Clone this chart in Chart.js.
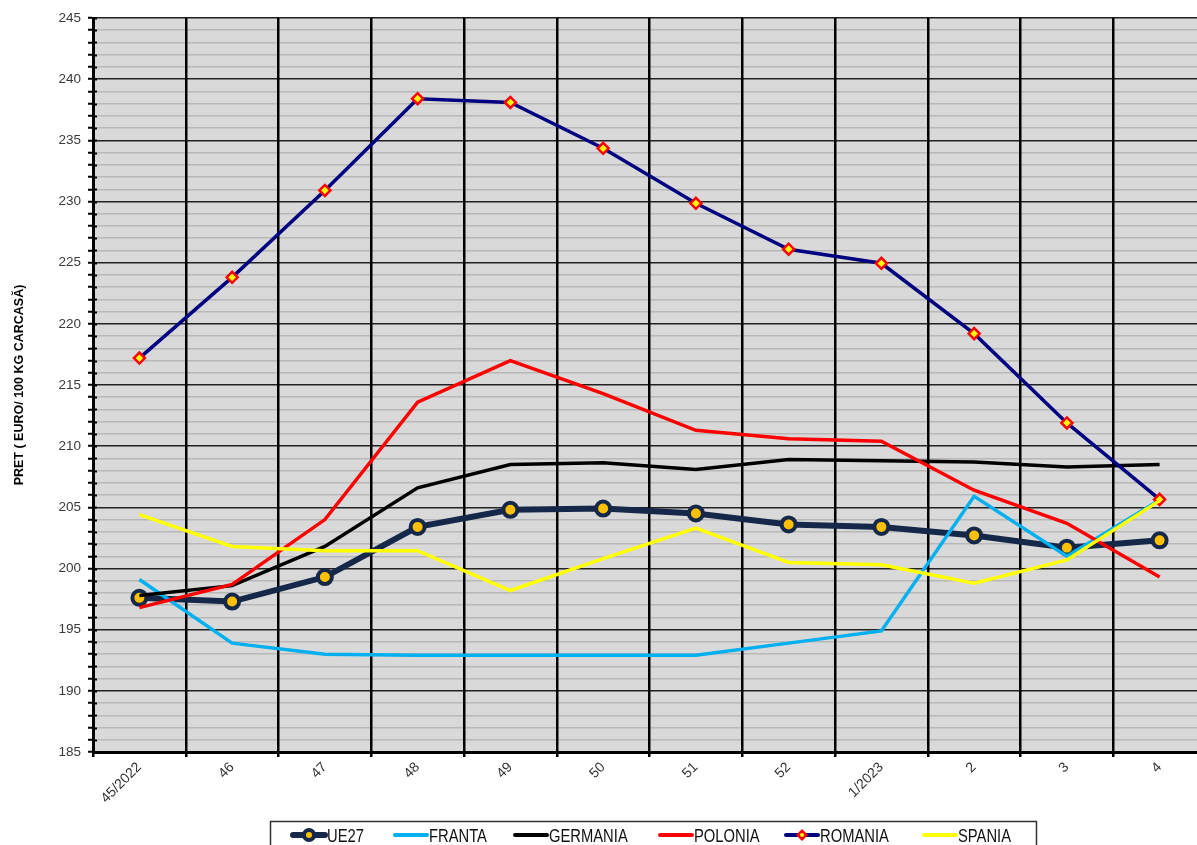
<!DOCTYPE html>
<html>
<head>
<meta charset="utf-8">
<title>Pret carcasa</title>
<script src="https://cdn.jsdelivr.net/npm/chart.js@4.4.1/dist/chart.umd.min.js"></script>
<style>
    html, body { margin: 0; padding: 0; background: #fff; overflow: hidden; }
    #grafic { display: block; }
</style>
</head>
<body>
<canvas id="grafic" width="1217" height="845"></canvas>
<script>
const weeks = ["45/2022", "46", "47", "48", "49", "50", "51", "52", "1/2023", "2", "3", "4"];
const ue27 = [197.6, 197.3, 199.3, 203.4, 204.8, 204.9, 204.5, 203.6, 203.4, 202.7, 201.7, 202.3];
const franta = [199.1, 193.9, 193.0, 192.9, 192.9, 192.9, 192.9, 193.9, 194.9, 205.9, 201.0, 205.6];
const germania = [197.8, 198.6, 201.8, 206.6, 208.5, 208.65, 208.1, 208.9, 208.8, 208.7, 208.3, 208.5];
const polonia = [196.8, 198.7, 204.0, 213.6, 217.0, 214.3, 211.3, 210.6, 210.4, 206.4, 203.7, 199.3];
const romania = [217.2, 223.8, 230.9, 238.4, 238.1, 234.35, 229.85, 226.1, 224.95, 219.2, 211.9, 205.65];
const spania = [204.4, 201.8, 201.45, 201.45, 198.2, 200.8, 203.3, 200.5, 200.3, 198.8, 200.7, 205.55];
const yMin = 185;
const yMax = 245;
const axisTitle = "PRET ( EURO/ 100 KG CARCASĂ)";

const legendFont = '18px "Liberation Sans", Arial, sans-serif';

// fundal gri doar in zona graficului
const plotBackground = {
    id: "plotBackground",
    beforeDraw(chart) {
        const { ctx, chartArea: a } = chart;
        ctx.save();
        ctx.fillStyle = "#d9d9d9";
        ctx.fillRect(a.left, a.top, a.right - a.left, a.bottom - a.top);
        ctx.restore();
    }
};

// liniutele de pe axa Y trec si in interiorul graficului
const innerTicks = {
    id: "innerTicks",
    afterDatasetsDraw(chart) {
        const { ctx, chartArea: a, scales } = chart;
        ctx.save();
        ctx.strokeStyle = "#000";
        ctx.lineWidth = 2;
        scales.y.ticks.forEach(t => {
            const y = Math.round(scales.y.getPixelForValue(t.value)) + 0.5;
            ctx.beginPath();
            ctx.moveTo(a.left, y);
            ctx.lineTo(a.left + 4, y);
            ctx.stroke();
        });
        ctx.restore();
    }
};

// legenda in stil Excel, cu chenar
const excelLegend = {
    id: "excelLegend",
    afterDraw(chart) {
        const ctx = chart.ctx;
        const starts = [291, 393, 513, 658, 784, 922];
        const y = 835;
        ctx.save();
        ctx.strokeStyle = "#333";
        ctx.lineWidth = 1.5;
        ctx.strokeRect(270.5, 821.5, 766, 40);
        ctx.font = legendFont;
        ctx.textBaseline = "alphabetic";
        chart.data.datasets.forEach((ds, i) => {
            const x = starts[i];
            ctx.strokeStyle = ds.borderColor;
            ctx.lineWidth = ds.label === "UE27" ? 6 : 4;
            ctx.lineCap = "round";
            ctx.beginPath();
            ctx.moveTo(x + 2, y);
            ctx.lineTo(x + 34, y);
            ctx.stroke();
            if (ds.label === "UE27") {
                ctx.fillStyle = ds.borderColor;
                ctx.beginPath();
                ctx.arc(x + 18, y, 7, 0, Math.PI * 2);
                ctx.fill();
                ctx.fillStyle = ds.pointBackgroundColor;
                ctx.beginPath();
                ctx.arc(x + 18, y, 3, 0, Math.PI * 2);
                ctx.fill();
            } else if (ds.label === "ROMANIA") {
                ctx.fillStyle = ds.pointBorderColor;
                ctx.beginPath();
                ctx.moveTo(x + 18, y - 6);
                ctx.lineTo(x + 24, y);
                ctx.lineTo(x + 18, y + 6);
                ctx.lineTo(x + 12, y);
                ctx.closePath();
                ctx.fill();
                ctx.fillStyle = ds.pointBackgroundColor;
                ctx.beginPath();
                ctx.arc(x + 18, y, 2, 0, Math.PI * 2);
                ctx.fill();
            }
            // text ingustat, ca Arial Narrow
            ctx.save();
            ctx.translate(x + 36, y + 7);
            ctx.scale(0.82, 1);
            ctx.fillStyle = "#111";
            ctx.fillText(ds.label, 0, 0);
            ctx.restore();
        });
        ctx.restore();
    }
};

const ctx = document.querySelector("#grafic").getContext("2d");
const chart = new Chart(ctx, {
    type: "line",
    plugins: [plotBackground, innerTicks, excelLegend],
    data: {
        labels: weeks,
        datasets: [
            {
                label: "UE27",
                data: ue27,
                borderColor: "#15284a",
                borderWidth: 6,
                pointRadius: 7,
                pointBorderWidth: 4,
                pointBorderColor: "#15284a",
                pointBackgroundColor: "#ffc000",
                order: 6
            },
            {
                label: "FRANTA",
                data: franta,
                borderColor: "#00b0f0",
                borderWidth: 3.5,
                pointRadius: 0,
                order: 5
            },
            {
                label: "GERMANIA",
                data: germania,
                borderColor: "#000000",
                borderWidth: 3.5,
                pointRadius: 0,
                order: 4
            },
            {
                label: "POLONIA",
                data: polonia,
                borderColor: "#ff0000",
                borderWidth: 3.5,
                pointRadius: 0,
                order: 3
            },
            {
                label: "ROMANIA",
                data: romania,
                borderColor: "#000080",
                borderWidth: 3.5,
                pointStyle: "rectRot",
                pointRadius: 5.5,
                pointBorderWidth: 2.5,
                pointBorderColor: "#ff0000",
                pointBackgroundColor: "#ffff00",
                order: 2
            },
            {
                label: "SPANIA",
                data: spania,
                borderColor: "#ffff00",
                borderWidth: 3.5,
                pointRadius: 0,
                order: 1
            }
        ]
    },
    options: {
        responsive: false,
        animation: false,
        layout: { padding: { top: 18, right: 0, left: 0, bottom: 0 } },
        elements: { line: { tension: 0 } },
        plugins: {
            legend: { display: false },
            tooltip: { enabled: false }
        },
        scales: {
            x: {
                type: "category",
                offset: true,
                grid: {
                    offset: true,
                    z: -1,
                    color: "#000",
                    lineWidth: 2.5,
                    drawTicks: true,
                    tickLength: 5,
                    tickColor: "#000",
                    tickWidth: 2.5
                },
                border: { color: "#000", width: 3 },
                ticks: {
                    minRotation: 45,
                    maxRotation: 45,
                    autoSkip: false,
                    padding: 2,
                    color: "#333",
                    font: { family: "'Liberation Sans', Arial, sans-serif", size: 14 }
                },
                afterFit(scale) {
                    scale.height = 93;
                    scale.paddingLeft = 0;
                    scale.paddingRight = 0;
                }
            },
            y: {
                min: yMin,
                max: yMax,
                grid: {
                    z: -2,
                    color: (c) => (c.tick && c.tick.value % 5 === 0 ? "#222" : "#b8b8b8"),
                    lineWidth: 1.5,
                    drawTicks: true,
                    tickLength: 5,
                    tickColor: "#000",
                    tickWidth: 2
                },
                border: { color: "#000", width: 3 },
                ticks: {
                    stepSize: 1,
                    maxTicksLimit: 100,
                    autoSkip: false,
                    padding: 7,
                    color: "#3a3a3a",
                    font: { family: "'Liberation Sans', Arial, sans-serif", size: 13.5 },
                    callback: (v) => (v % 5 === 0 ? v : "")
                },
                title: {
                    display: true,
                    text: axisTitle,
                    color: "#000",
                    padding: { top: 12, bottom: 0 },
                    font: { family: "'Liberation Sans', Arial, sans-serif", size: 12.5, weight: "bold" }
                },
                afterFit(scale) {
                    scale.width = 93;
                }
            }
        }
    }
});
</script>
</body>
</html>
